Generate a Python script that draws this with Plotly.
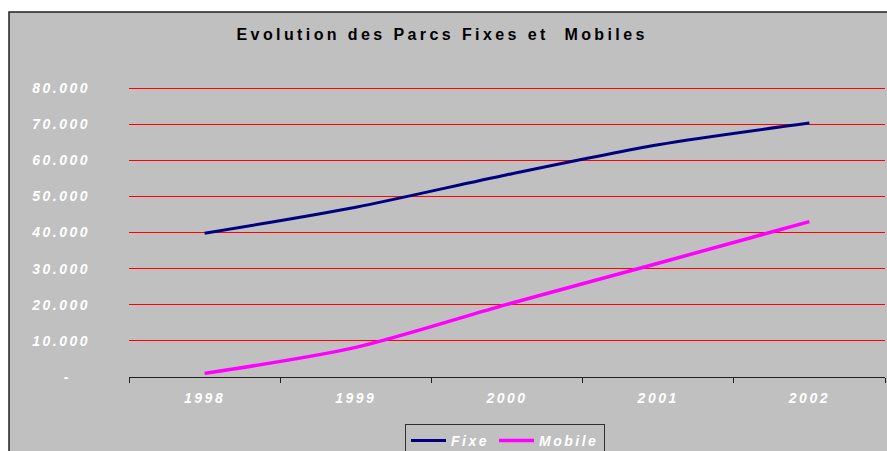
import plotly.graph_objects as go

years = ['1998', '1999', '2000', '2001', '2002']
fixe = [39800, 47000, 56000, 64300, 70300]
mobile = [1000, 8200, 20100, 31500, 43000]
y_tickvals = [0, 10000, 20000, 30000, 40000, 50000, 60000, 70000, 80000]
y_ticktext = ['-\u00a0\u00a0\u00a0', '10.000', '20.000', '30.000', '40.000',
              '50.000', '60.000', '70.000', '80.000']

FONT = 'Liberation Sans, Arial, sans-serif'
W, H = 887, 451
L, R, T, B = 129, 2, 84, 74
PLOT_H = H - T - B
Y_MAX = 80000 * PLOT_H / (PLOT_H - 4)   # headroom so the 80.000 gridline is drawn at y=88

fig = go.Figure()
fig.add_trace(go.Scatter(x=years, y=fixe, name='Fixe', mode='lines',
                         line=dict(color='#000080', width=3, shape='spline', smoothing=0.8)))
fig.add_trace(go.Scatter(x=years, y=mobile, name='Mobile', mode='lines',
                         line=dict(color='#FF00FF', width=3.5, shape='spline', smoothing=0.8)))

# grey chart area with dark border (top & left visible)
fig.add_shape(type='rect', xref='paper', yref='paper',
              x0=(9 - L) / (W - L - R), x1=1.05,
              y0=-0.5, y1=(H - B - 12) / PLOT_H,
              fillcolor='#C0C0C0', line=dict(color='#202020', width=1.5), layer='below')

fig.update_layout(
    width=W, height=H,
    margin=dict(l=L, r=R, t=T, b=B, autoexpand=False),
    paper_bgcolor='white',
    plot_bgcolor='#C0C0C0',
    font=dict(family=FONT),
    title=dict(text='Evolution des Parcs Fixes et\u00a0 Mobiles', x=0.4985, xref='container',
               y=1 - 34 / H, yref='container', xanchor='center', yanchor='middle',
               font=dict(family=FONT, size=16, color='black', weight='bold')),
    xaxis=dict(type='category', range=[-0.5, 4.5], tickson='boundaries', ticks='outside',
               ticklen=5, tickcolor='#202020', tickwidth=1, showline=True, linecolor='#202020',
               linewidth=1, showgrid=False, ticklabelstandoff=8,
               tickfont=dict(family=FONT, size=14, color='white', weight='bold', style='italic')),
    yaxis=dict(range=[0, Y_MAX], tickvals=y_tickvals, ticktext=y_ticktext, showgrid=True,
               gridcolor='#FF0000', gridwidth=1, zeroline=False, showline=False, ticks='',
               ticklabelstandoff=38,
               tickfont=dict(family=FONT, size=14, color='white', weight='bold', style='italic')),
    legend=dict(orientation='h', xref='container', yref='container',
                x=405 / W, y=1 - 424 / H,
                xanchor='left', yanchor='top', bgcolor='#C0C0C0', bordercolor='#303030',
                borderwidth=1, itemwidth=35,
                font=dict(family=FONT, size=14, color='white', weight='bold', style='italic')),
    showlegend=True,
)

css = ('html,body{margin:0;padding:0;overflow:hidden}'
       '.gtitle{letter-spacing:3.4px}'
       '.xtick text,.ytick text{letter-spacing:2.5px}'
       '.legendtext{letter-spacing:2.5px}')
post = ("var s=document.createElement('style');s.textContent='" + css +
        "';document.head.appendChild(s);"
        "var gd=document.getElementById('{plot_id}');"
        "return Plotly.relayout(gd,{'legend.font.size':14.01});")

fig.write_html('out.html', post_script=post, config={'displayModeBar': False})
